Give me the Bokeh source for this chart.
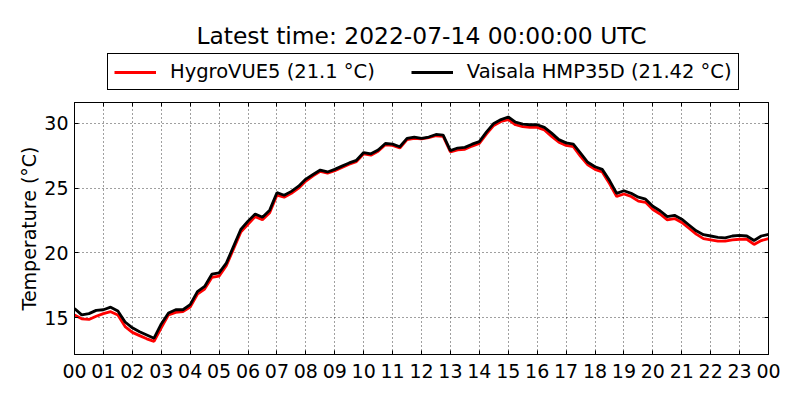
from bokeh.plotting import figure
from bokeh.layouts import column
from bokeh.models import Range1d, LinearAxis, Legend, LegendItem, Label, FixedTicker
from bokeh.embed import file_html
from bokeh.resources import INLINE

# sampling grid: minutes after 2022-07-13 00:00 UTC, every 15 min
minutes = list(range(0, 1441, 15))

hygrovue = [
    15.2, 14.9, 14.85, 15.1, 15.3, 15.45, 15.2, 14.3,
    13.85, 13.6, 13.35, 13.15, 14.2, 15.2, 15.4, 15.45,
    15.8, 16.8, 17.2, 18.1, 18.2, 19.0, 20.3, 21.6,
    22.2, 22.8, 22.55, 23.1, 24.45, 24.3, 24.6, 25.0,
    25.55, 25.95, 26.3, 26.15, 26.35, 26.6, 26.85, 27.05,
    27.65, 27.55, 27.85, 28.35, 28.3, 28.1, 28.75, 28.85,
    28.8, 28.9, 29.05, 29.0, 27.8, 27.95, 28.0, 28.25,
    28.45, 29.2, 29.85, 30.15, 30.3, 29.9, 29.75, 29.7,
    29.7, 29.5, 29.0, 28.55, 28.3, 28.2, 27.45, 26.8,
    26.45, 26.25, 25.35, 24.35, 24.55, 24.35, 24.0, 23.9,
    23.35, 23.0, 22.55, 22.65, 22.35, 21.9, 21.45, 21.1,
    21.0, 20.9, 20.9, 21.0, 21.05, 21.05, 20.65, 20.95,
    21.1,
]

vaisala = [
    15.7, 15.2, 15.3, 15.55, 15.6, 15.8, 15.5, 14.65,
    14.2, 13.9, 13.65, 13.4, 14.5, 15.35, 15.6, 15.6,
    16.0, 17.0, 17.4, 18.35, 18.45, 19.2, 20.5, 21.8,
    22.45, 23.0, 22.75, 23.3, 24.65, 24.45, 24.75, 25.15,
    25.7, 26.05, 26.4, 26.25, 26.45, 26.7, 26.95, 27.15,
    27.75, 27.65, 27.95, 28.45, 28.4, 28.2, 28.85, 28.95,
    28.85, 28.95, 29.15, 29.1, 27.9, 28.1, 28.15, 28.4,
    28.6, 29.35, 30.0, 30.3, 30.5, 30.1, 29.95, 29.9,
    29.9, 29.7, 29.25, 28.75, 28.5, 28.4, 27.7, 27.0,
    26.65, 26.45, 25.6, 24.6, 24.8, 24.6, 24.3, 24.15,
    23.6, 23.25, 22.8, 22.9, 22.6, 22.15, 21.7, 21.4,
    21.3, 21.2, 21.15, 21.3, 21.35, 21.3, 20.95, 21.3,
    21.42,
]

hour_ticks = list(range(25))
hour_labels = ["00", "01", "02", "03", "04", "05", "06", "07", "08", "09",
               "10", "11", "12", "13", "14", "15", "16", "17", "18", "19",
               "20", "21", "22", "23", "00"]
temp_ticks = [15, 20, 25, 30]

title_text = "Latest time: 2022-07-14 00:00:00 UTC"
label_hygro = "HygroVUE5 (21.1 °C)"
label_vais = "Vaisala HMP35D (21.42 °C)"
y_label = "Temperature (°C)"

hours = [m / 60 for m in minutes]

FONT = "DejaVu Sans"
LW = 2.8

# ---------- header (title + legend); its frame is aligned with the plot frame ----------
top = figure(width=800, height=94, output_backend="svg", toolbar_location=None,
             x_axis_type=None, y_axis_type=None, title=None,
             x_range=Range1d(0, 24), y_range=Range1d(0, 1),
             min_border_left=74, min_border_right=32, min_border_top=0,
             min_border_bottom=0)
top.outline_line_color = None
top.background_fill_color = "white"
top.border_fill_color = "white"
top.xgrid.visible = False
top.ygrid.visible = False

# same series, outside this header's y range: only used for the legend glyphs
k1 = top.line(hours, hygrovue, line_color="red", line_width=LW)
k2 = top.line(hours, vaisala, line_color="black", line_width=LW)

legend = Legend(items=[LegendItem(label=label_hygro, renderers=[k1]),
                       LegendItem(label=label_vais, renderers=[k2])],
                orientation="horizontal", location=(33, 4),
                glyph_width=42, glyph_height=20, label_standoff=14,
                spacing=36, padding=6, margin=0,
                border_line_color="black", border_line_width=1,
                border_line_alpha=1.0,
                background_fill_color="white", background_fill_alpha=1,
                label_text_font=FONT, label_text_font_size="19.5px",
                label_text_color="black")
top.add_layout(legend)

title = Label(x=347, y=59, x_units="screen", y_units="screen", text=title_text,
              text_align="center", text_baseline="middle", text_font=FONT,
              text_font_size="23.4px", text_color="black")
top.add_layout(title)

# ---------- main plot ----------
p = figure(width=800, height=306, output_backend="svg", toolbar_location=None,
           title=None,
           x_range=Range1d(0, 24), y_range=Range1d(12.14, 31.62),
           min_border_left=74, min_border_right=32, min_border_top=8,
           min_border_bottom=46)
p.background_fill_color = "white"
p.border_fill_color = "white"
p.outline_line_color = "black"
p.outline_line_width = 1

r1 = p.line(hours, hygrovue, line_color="red", line_width=LW)
r2 = p.line(hours, vaisala, line_color="black", line_width=LW)

xt = FixedTicker(ticks=hour_ticks, minor_ticks=[])
yt = FixedTicker(ticks=temp_ticks, minor_ticks=[])

ax = p.xaxis[0]
ax.ticker = xt
ax.major_label_overrides = {i: lbl for i, lbl in zip(hour_ticks, hour_labels)}
ay = p.yaxis[0]
ay.ticker = yt
ay.axis_label = y_label
for a in (ax, ay):
    a.major_tick_in = 4
    a.major_tick_out = 0
    a.minor_tick_line_color = None
    a.axis_line_color = "black"
    a.major_tick_line_color = "black"
    a.major_label_text_font = FONT
    a.major_label_text_font_size = "19px"
    a.major_label_text_color = "black"
    a.axis_label_text_font = FONT
    a.axis_label_text_font_size = "19px"
    a.axis_label_text_font_style = "normal"
    a.axis_label_text_color = "black"
ax.major_label_standoff = 9
ay.major_label_standoff = 6
ay.axis_label_standoff = 1

for loc, tk in (("right", yt), ("above", xt)):
    extra = LinearAxis(ticker=tk)
    extra.major_tick_in = 4
    extra.major_tick_out = 0
    extra.minor_tick_line_color = None
    extra.major_label_text_font_size = "1px"
    extra.major_label_text_color = None
    extra.major_label_standoff = 0
    extra.axis_line_color = "black"
    p.add_layout(extra, loc)

for g, tk in ((p.xgrid[0], xt), (p.ygrid[0], yt)):
    g.ticker = tk
    g.grid_line_color = "black"
    g.grid_line_alpha = 0.75
    g.grid_line_dash = "1 3"
    g.grid_line_width = 1

open("out.html", "w").write(file_html(column(top, p, spacing=0), INLINE))
